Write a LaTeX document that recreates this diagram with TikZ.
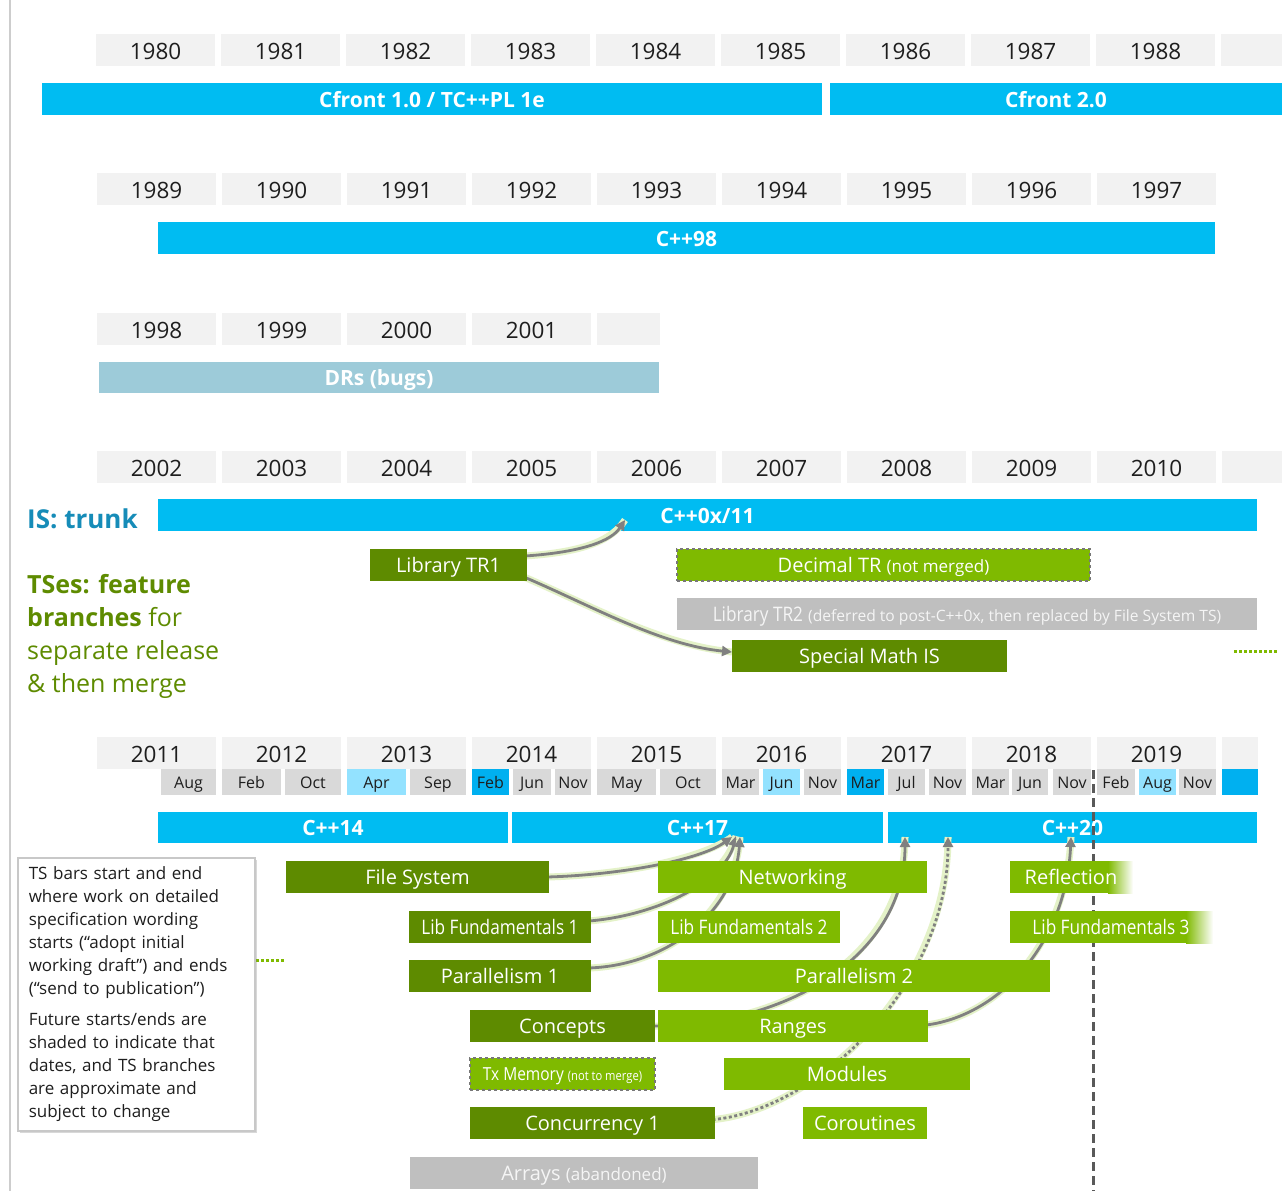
\documentclass[tikz,border=0pt]{standalone}
\usepackage{fontspec}
\setmainfont{Open Sans}
\newfontfamily\condfont[FakeStretch=0.86]{Open Sans}
\usetikzlibrary{arrows.meta,shadows,calc}
\pgfdeclarelayer{bglayer}
\pgfdeclarelayer{connlayer}
\pgfsetlayers{bglayer,connlayer,main}
\newcommand\fsz[2]{\fontsize{#1}{#2}\selectfont}
\definecolor{barcyan}{RGB}{0,188,242}
\definecolor{yearbg}{RGB}{242,242,242}
\definecolor{monthbg}{RGB}{217,217,217}
\definecolor{lightblue}{RGB}{147,226,255}
\definecolor{blueish}{RGB}{0,176,240}
\definecolor{drblue}{RGB}{157,203,217}
\definecolor{tsdarkc}{RGB}{94,139,0}
\definecolor{tslightc}{RGB}{127,186,0}
\definecolor{tsgreyc}{RGB}{191,191,191}
\definecolor{greytext}{RGB}{245,245,245}
\definecolor{txtdark}{RGB}{30,30,30}
\definecolor{isblue}{RGB}{22,140,184}
\definecolor{conngrey}{RGB}{128,128,128}
\definecolor{glowc}{RGB}{228,242,200}
\definecolor{dashgrey}{RGB}{120,120,120}
\definecolor{notegrey}{RGB}{200,200,200}
\definecolor{vline}{RGB}{89,89,89}
\definecolor{leftline}{RGB}{205,205,205}
\tikzset{
 yearcell/.style={anchor=north west, inner sep=0pt, outer sep=0pt, minimum width=119, minimum height=32, fill=yearbg, text=txtdark, font=\fsz{22.5}{22.5}, text height=20pt, text depth=0.3pt},
 monthcell/.style={anchor=north west, inner sep=0pt, outer sep=0pt, minimum height=26, text=txtdark, font=\fsz{16}{16}, text height=13pt, text depth=0.6pt},
 relbar/.style={anchor=north west, inner sep=0pt, outer sep=0pt, minimum height=32, fill=barcyan, text=white, font=\bfseries\fsz{21}{21}, text height=17pt, text depth=0.5pt},
 tsbox/.style={anchor=north west, inner sep=0pt, outer sep=0pt, minimum height=32, text=white, font=\fsz{20}{20}, text height=15pt, text depth=0.7pt},
 tsdark/.style={tsbox, fill=tsdarkc},
 tslight/.style={tsbox, fill=tslightc},
 tsgrey/.style={tsbox, fill=tsgreyc, text=greytext},
 notmerged/.style={draw=dashgrey, dashed, line width=1.5pt},
 arrowconn/.style={draw=conngrey, line width=2.8pt, -{Triangle[length=10pt,width=10pt]}, preaction={draw=glowc, line width=7pt, -}},
 dotconn/.style={arrowconn, dash pattern=on 3pt off 2.5pt},
 greendots/.style={draw=tslightc, line width=3pt, dash pattern=on 3pt off 2pt},
 notebox/.style={anchor=north west, fill=white, draw=notegrey, line width=1.5pt, drop shadow={opacity=0.3, shadow xshift=2pt, shadow yshift=-2pt}, minimum width=237, minimum height=273, align=left, inner xsep=10pt, text width=215, text=txtdark, font=\fsz{17}{23}},
}
\begin{document}
\begin{tikzpicture}[x=1pt,y=-1pt]
\useasboundingbox (0,0) rectangle (1282,1191);
\begin{pgfonlayer}{bglayer}
\fill[white] (0,0) rectangle (1282,1191);
\coordinate (lltop) at (10,0);
\coordinate (llbot) at (10,1191);
\draw[leftline, line width=1.5pt] (lltop) -- (llbot);
% year rows
\foreach \i in {0,...,8} {
  \pgfmathtruncatemacro\ya{1980+\i}
  \pgfmathtruncatemacro\yb{1989+\i}
  \pgfmathtruncatemacro\yd{2002+\i}
  \pgfmathtruncatemacro\ye{2011+\i}
  \node[yearcell] (yr\ya) at ({96+125*\i},34) {\ya};
  \node[yearcell] (yr\yb) at ({97+125*\i},173) {\yb};
  \node[yearcell] (yr\yd) at ({97+125*\i},451) {\yd};
  \node[yearcell] (yr\ye) at ({97+125*\i},737) {\ye};
}
\foreach \i in {0,...,3} {
  \pgfmathtruncatemacro\yc{1998+\i}
  \node[yearcell] (yr\yc) at ({97+125*\i},313) {\yc};
}
\node[yearcell, minimum width=61] (yrxa) at (1221,34) {};
\node[yearcell, minimum width=63] (yrxc) at (597,313) {};
\node[yearcell, minimum width=60] (yrxd) at (1222,451) {};
\node[yearcell, minimum width=36] (yrxe) at (1222,737) {};
% months
\foreach \l/\r/\m/\c [count=\k] in {161/216/Aug/monthbg, 222/281/Feb/monthbg, 285/341/Oct/monthbg, 347/406/Apr/lightblue, 410/466/Sep/monthbg, 472/509/Feb/blueish, 513/551/Jun/monthbg, 555/591/Nov/monthbg, 597/656/May/monthbg, 660/716/Oct/monthbg, 722/759/Mar/monthbg, 763/800/Jun/lightblue, 804/841/Nov/monthbg, 847/884/Mar/blueish, 888/925/Jul/monthbg, 929/966/Nov/monthbg, 972/1009/Mar/monthbg, 1012/1048/Jun/monthbg, 1053/1091/Nov/monthbg, 1097/1135/Feb/monthbg, 1139/1176/Aug/lightblue, 1179/1216/Nov/monthbg, 1222/1258/{}/blueish} {
  \pgfmathsetmacro\w{\r-\l}
  \node[monthcell, fill=\c, minimum width=\w] (mo\k) at (\l,769) {\m};
}
% release bars
\node[relbar, minimum width=780] (cfront1) at (42,83) {Cfront 1.0 / TC++PL 1e};
\node[relbar, minimum width=452] (cfront2) at (830,83) {Cfront 2.0};
\node[relbar, minimum width=1057] (cxx98) at (158,222) {C++98};
\node[relbar, fill=drblue, minimum width=560, minimum height=31] (drs) at (99,362) {DRs (bugs)};
\node[relbar, minimum width=1099] (cxx11) at (158,499) {C++0x/11};
\node[relbar, minimum width=350, minimum height=31] (cxx14) at (158,812) {C++14};
\node[relbar, minimum width=371, minimum height=31] (cxx17) at (512,812) {C++17};
\node[relbar, minimum width=369, minimum height=31] (cxx20) at (888,812) {C++20};
\end{pgfonlayer}

% labels
\node[anchor=west, inner sep=0pt, text=isblue, font=\bfseries\fsz{26}{26}] (islabel) at (27,519) {IS: trunk};
\node[anchor=north west, inner sep=0pt, align=left, text=tsdarkc, font=\fsz{25}{33}] (tslabel) at (27,574) {\textbf{TSes: feature}\\\textbf{branches} for\\separate release\\\& then merge};

% TS boxes (2002-2010)
\node[tsdark, minimum width=157] (tr1) at (370,549) {Library TR1};
\node[tslight, notmerged, minimum width=413] (decimal) at (677,549) {Decimal TR {\fsz{17}{17}(not merged)}};
\node[tsgrey, minimum width=580] (tr2) at (677,598) {{\condfont Library TR2} {\fsz{15.6}{16}(deferred to post-C++0x, then replaced by File System TS)}};
\node[tsdark, minimum width=275] (smath) at (732,640) {Special Math IS};

% TS boxes (2011-)
\node[tsdark, minimum width=263] (fs) at (286,861) {File System};
\node[tslight, minimum width=269] (net) at (658,861) {Networking};
\fill[tslightc] (1010,861) rectangle (1108,893);
\shade[left color=tslightc, right color=white] (1108,861) rectangle (1133,893);
\node[tsbox, minimum width=122] (refl) at (1010,861) {Reflection};
\node[tsdark, minimum width=182, font=\condfont\fsz{20}{20}] (lf1) at (409,911) {Lib Fundamentals 1};
\node[tslight, minimum width=182, font=\condfont\fsz{20}{20}] (lf2) at (658,911) {Lib Fundamentals 2};
\fill[tslightc] (1010,911) rectangle (1186,943);
\shade[left color=tslightc, right color=white] (1186,911) rectangle (1213,943);
\node[tsbox, minimum width=202, font=\condfont\fsz{20}{20}] (lf3) at (1010,911) {Lib Fundamentals 3};
\node[tsdark, minimum width=182] (par1) at (409,960) {Parallelism 1};
\node[tslight, minimum width=392] (par2) at (658,960) {Parallelism 2};
\node[tsdark, minimum width=185] (concepts) at (470,1010) {Concepts};
\node[tslight, minimum width=270] (ranges) at (658,1010) {Ranges};
\node[tslight, notmerged, minimum width=185, font=\condfont\fsz{18}{18}, text height=13.5pt] (txm) at (470,1058) {Tx Memory {\fsz{13}{13}(not to merge)}};
\node[tslight, minimum width=246] (modules) at (724,1058) {Modules};
\node[tsdark, minimum width=245] (conc1) at (470,1107) {Concurrency 1};
\node[tslight, minimum width=124] (corout) at (803,1107) {Coroutines};
\node[tsgrey, minimum width=348] (arrays) at (410,1157) {Arrays {\fsz{17}{17}(abandoned)}};

% note
\node[notebox] (note) at (17,857) {TS bars start and end\\
where work on detailed\\
specification wording\\
starts (“adopt initial\\
working draft”) and ends\\
(“send to publication”)\\[8pt]
Future starts/ends are\\
shaded to indicate that\\
dates, and TS branches\\
are approximate and\\
subject to change};

% connectors
\coordinate (t11) at (625,520);
\coordinate (t17a) at (732,837);
\coordinate (t17b) at (736,836);
\coordinate (t17c) at (740,837);
\coordinate (t20a) at (905,837);
\coordinate (t20b) at (948,837);
\coordinate (t20c) at (1071,837);
\coordinate (vtop) at (1093,770);
\coordinate (vbot) at (1093,1191);
\coordinate (g1a) at (1234,651);
\coordinate (g1b) at (1278,651);
\coordinate (g2a) at (256,960);
\coordinate (g2b) at (284,960);
\begin{pgfonlayer}{connlayer}
\draw[vline, line width=3pt, dash pattern=on 9pt off 5pt] (vtop) -- (vbot);
\draw[arrowconn] ($(tr1.north east)+(-2,7)$) .. controls (585,552) and (612,540) .. (t11);
\draw[arrowconn] ($(tr1.south east)+(-3,-4)$) .. controls (590,605) and (660,645) .. ($(smath.west)+(0,-4)$);
\draw[arrowconn] ($(fs.east)+(-2,0)$) .. controls (620,875) and (700,860) .. (t17a);
\draw[arrowconn] ($(lf1.east)+(-2,-6)$) .. controls (660,915) and (725,880) .. (t17b);
\draw[arrowconn] ($(par1.east)+(-2,-8)$) .. controls (670,965) and (735,910) .. (t17c);
\draw[arrowconn] ($(concepts.east)+(-3,0)$) .. controls (780,1027) and (905,960) .. (t20a);
\draw[dotconn] ($(conc1.east)+(-8,-3)$) .. controls (810,1115) and (948,990) .. (t20b);
\draw[arrowconn] ($(ranges.east)+(-16,0)$) .. controls (990,1025) and (1066,950) .. (t20c);
\draw[greendots] (g1a) -- (g1b);
\draw[greendots] (g2a) -- (g2b);
\end{pgfonlayer}
\end{tikzpicture}
\end{document}
